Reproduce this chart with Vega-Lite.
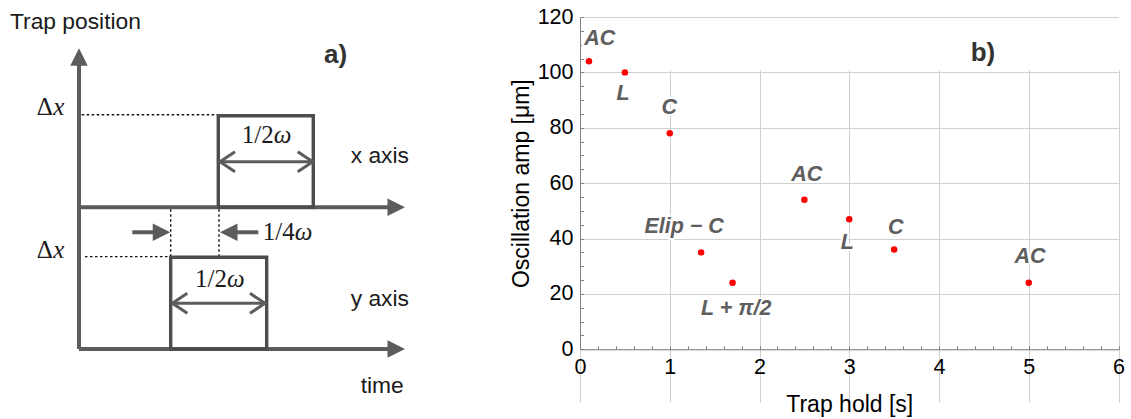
{
  "$schema": "https://vega.github.io/schema/vega-lite/v6.json",
  "width": 1131,
  "height": 419,
  "autosize": {"type": "fit", "contains": "padding"},
  "padding": 0,
  "background": "white",
  "config": {"view": {"stroke": null}, "font": "Liberation Sans"},
  "datasets": {
    "amplitude": [
      {"hold": 0.1, "amp": 104},
      {"hold": 0.5, "amp": 100},
      {"hold": 1.0, "amp": 78},
      {"hold": 1.35, "amp": 35},
      {"hold": 1.7, "amp": 24},
      {"hold": 2.5, "amp": 54},
      {"hold": 3.0, "amp": 47},
      {"hold": 3.5, "amp": 36},
      {"hold": 5.0, "amp": 24}
    ],
    "regime_labels": [
      {"text": "AC", "hold": 0.22, "amp": 112.1},
      {"text": "L", "hold": 0.48, "amp": 92.2},
      {"text": "C", "hold": 0.995, "amp": 87.0},
      {"text": "Elip − C", "hold": 1.16, "amp": 44.1},
      {"text": "L + π/2", "hold": 1.74, "amp": 14.6},
      {"text": "AC", "hold": 2.526, "amp": 62.9},
      {"text": "L", "hold": 2.978, "amp": 38.3},
      {"text": "C", "hold": 3.518, "amp": 43.7},
      {"text": "AC", "hold": 5.014, "amp": 33.3}
    ],
    "panel_tag_b": [{"text": "b)", "hold": 4.49, "amp": 106.9}],
    "schematic_axes": [
      {"x": 0, "y": 0, "x2": 0, "y2": 3.1},
      {"x": 0, "y": 1.545, "x2": 6.55, "y2": 1.545},
      {"x": 0, "y": 0, "x2": 6.55, "y2": 0}
    ],
    "schematic_boxes": [
      {"x": 2.902, "x2": 4.881, "y": 1.545, "y2": 2.544},
      {"x": 1.91, "x2": 3.91, "y": 0, "y2": 1.0}
    ],
    "schematic_dotted": [
      {"x": 0.056, "y": 2.555, "x2": 2.902, "y2": 2.555},
      {"x": 0.125, "y": 1.007, "x2": 2.348, "y2": 1.007},
      {"x": 1.91, "y": 1.007, "x2": 1.91, "y2": 1.545},
      {"x": 2.917, "y": 1.007, "x2": 2.917, "y2": 1.545}
    ],
    "schematic_span_arrows": [
      {"x": 2.94, "y": 2.043, "x2": 4.87, "y2": 2.043},
      {"x": 1.94, "y": 0.498, "x2": 3.875, "y2": 0.498}
    ],
    "schematic_offset_arrows": [
      {"x": 1.11, "y": 1.273, "x2": 1.72, "y2": 1.273},
      {"x": 3.12, "y": 1.273, "x2": 3.735, "y2": 1.273}
    ],
    "schematic_heads": [
      {"x": 0, "y": 3.184, "dir": "up"},
      {"x": 6.609, "y": 1.545, "dir": "right"},
      {"x": 6.609, "y": 0, "dir": "right"},
      {"x": 1.719, "y": 1.273, "dir": "right"},
      {"x": 3.12, "y": 1.273, "dir": "left"}
    ],
    "schematic_chevrons": [
      {"x": 2.9375, "y": 2.043, "dir": "open-left"},
      {"x": 4.869, "y": 2.043, "dir": "open-right"},
      {"x": 1.944, "y": 0.498, "dir": "open-left"},
      {"x": 3.875, "y": 0.498, "dir": "open-right"}
    ],
    "schematic_labels_sans": [
      {"x": -1.4375, "y": 3.49, "text": "Trap position"},
      {"x": 5.66, "y": 2.025, "text": "x axis"},
      {"x": 5.66, "y": 0.469, "text": "y axis"},
      {"x": 5.869, "y": -0.483, "text": "time"}
    ],
    "schematic_labels_serif": [
      {"x": -0.881, "y": 2.552, "text": "Δ"},
      {"x": -0.881, "y": 0.989, "text": "Δ"},
      {"x": 3.39, "y": 2.243, "text": "1/2"},
      {"x": 2.417, "y": 0.679, "text": "1/2"},
      {"x": 3.827, "y": 1.189, "text": "1/4"}
    ],
    "schematic_labels_italic": [
      {"x": -0.535, "y": 2.552, "text": "x"},
      {"x": -0.535, "y": 0.989, "text": "x"},
      {"x": 4.056, "y": 2.243, "text": "ω"},
      {"x": 3.083, "y": 0.679, "text": "ω"},
      {"x": 4.494, "y": 1.189, "text": "ω"}
    ],
    "schematic_tag": [{"x": 5.104, "y": 3.122, "text": "a)"}]
  },
  "layer": [
    {
      "encoding": {
        "x": {"field": "x", "type": "quantitative", "scale": {"domain": [0, 10], "range": [79, 559], "nice": false, "zero": false}, "axis": null},
        "y": {"field": "y", "type": "quantitative", "scale": {"domain": [0, 4], "range": [349, -17.8], "nice": false, "zero": false}, "axis": null}
      },
      "layer": [
        {
          "data": {"name": "schematic_dotted"},
          "mark": {"type": "rule", "color": "#111111", "strokeWidth": 1.4, "strokeDash": [2.5, 2.5]},
          "encoding": {"x2": {"field": "x2"}, "y2": {"field": "y2"}}
        },
        {
          "data": {"name": "schematic_axes"},
          "mark": {"type": "rule", "color": "#5c5c5c", "strokeWidth": 4},
          "encoding": {"x2": {"field": "x2"}, "y2": {"field": "y2"}}
        },
        {
          "data": {"name": "schematic_boxes"},
          "mark": {"type": "rect", "filled": false, "stroke": "#4d4d4d", "strokeWidth": 3.4},
          "encoding": {"x2": {"field": "x2"}, "y2": {"field": "y2"}}
        },
        {
          "data": {"name": "schematic_span_arrows"},
          "mark": {"type": "rule", "color": "#5c5c5c", "strokeWidth": 3},
          "encoding": {"x2": {"field": "x2"}, "y2": {"field": "y2"}}
        },
        {
          "data": {"name": "schematic_offset_arrows"},
          "mark": {"type": "rule", "color": "#5c5c5c", "strokeWidth": 4},
          "encoding": {"x2": {"field": "x2"}, "y2": {"field": "y2"}}
        },
        {
          "data": {"name": "schematic_heads"},
          "mark": {"type": "point", "filled": true, "size": 306, "color": "#5c5c5c", "opacity": 1, "strokeWidth": 0},
          "encoding": {
            "shape": {"field": "dir", "type": "nominal", "legend": null,
              "scale": {"domain": ["up", "right", "left", "open-left", "open-right"],
                "range": ["M-1,1L0,-1L1,1Z", "M-1,-1L1,0L-1,1Z", "M1,-1L-1,0L1,1Z", "M1.5,-1L0,0L1.5,1", "M-1.5,-1L0,0L-1.5,1"]}}
          }
        },
        {
          "data": {"name": "schematic_chevrons"},
          "mark": {"type": "point", "filled": false, "size": 400, "color": "#5c5c5c", "opacity": 1, "strokeWidth": 3},
          "encoding": {
            "shape": {"field": "dir", "type": "nominal", "legend": null,
              "scale": {"domain": ["up", "right", "left", "open-left", "open-right"],
                "range": ["M-1,1L0,-1L1,1Z", "M-1,-1L1,0L-1,1Z", "M1,-1L-1,0L1,1Z", "M1.5,-1L0,0L1.5,1", "M-1.5,-1L0,0L-1.5,1"]}}
          }
        },
        {
          "data": {"name": "schematic_labels_sans"},
          "mark": {"type": "text", "align": "left", "baseline": "alphabetic", "font": "Liberation Sans", "fontSize": 22.8, "color": "#1a1a1a"},
          "encoding": {"text": {"field": "text"}}
        },
        {
          "data": {"name": "schematic_labels_serif"},
          "mark": {"type": "text", "align": "left", "baseline": "alphabetic", "font": "Liberation Serif", "fontSize": 25, "color": "#1a1a1a"},
          "encoding": {"text": {"field": "text"}}
        },
        {
          "data": {"name": "schematic_labels_italic"},
          "mark": {"type": "text", "align": "left", "baseline": "alphabetic", "font": "Liberation Serif", "fontStyle": "italic", "fontSize": 25, "color": "#1a1a1a"},
          "encoding": {"text": {"field": "text"}}
        },
        {
          "data": {"name": "schematic_tag"},
          "mark": {"type": "text", "align": "left", "baseline": "alphabetic", "font": "Liberation Sans", "fontWeight": "bold", "fontSize": 26, "color": "#333333"},
          "encoding": {"text": {"field": "text"}}
        }
      ]
    },
    {
      "data": {"name": "amplitude"},
      "mark": {"type": "circle", "color": "#ff0000", "size": 30, "opacity": 0},
      "encoding": {
        "x": {"field": "hold", "type": "quantitative",
          "scale": {"domain": [0, 6], "range": [580, 1118.5], "nice": false, "zero": false},
          "axis": {
            "orient": "bottom", "offset": -69.7,
            "values": [0, 0.2, 0.4, 0.6, 0.8, 1, 1.2, 1.4, 1.6, 1.8, 2, 2.2, 2.4, 2.6, 2.8, 3, 3.2, 3.4, 3.6, 3.8, 4, 4.2, 4.4, 4.6, 4.8, 5, 5.2, 5.4, 5.6, 5.8, 6],
            "labelExpr": "abs(datum.value - round(datum.value)) < 0.001 ? format(datum.value, 'd') : ''",
            "labelFont": "Liberation Sans", "labelFontSize": 21.5, "labelColor": "#000000",
            "labelPadding": 11, "labelFlush": false, "labelOverlap": false,
            "tickSize": -3.5,
            "tickColor": "#808080", "tickWidth": 1,
            "domainColor": "#808080", "domainWidth": 1,
            "grid": true, "gridColor": "#d0d0d0", "gridWidth": 1,
            "gridOpacity": {"condition": {"test": "abs(datum.value - round(datum.value)) < 0.001", "value": 1}, "value": 0},
            "title": "Trap hold [s]", "titleFont": "Liberation Sans", "titleFontSize": 23, "titleFontWeight": "normal", "titleColor": "#000000", "titlePadding": 15
          }
        },
        "y": {"field": "amp", "type": "quantitative",
          "scale": {"domain": [0, 120], "range": [349.3, 17], "nice": false, "zero": false},
          "axis": {
            "orient": "left", "offset": -580,
            "values": [0, 5, 10, 15, 20, 25, 30, 35, 40, 45, 50, 55, 60, 65, 70, 75, 80, 85, 90, 95, 100, 105, 110, 115, 120],
            "labelExpr": "datum.value % 20 === 0 ? format(datum.value, 'd') : ''",
            "labelFont": "Liberation Sans", "labelFontSize": 21.5, "labelColor": "#000000",
            "labelPadding": 10.5, "labelFlush": false, "labelOverlap": false,
            "tickSize": -3.5,
            "tickColor": "#808080", "tickWidth": 1,
            "domainColor": "#808080", "domainWidth": 1,
            "grid": true, "gridColor": "#d0d0d0", "gridWidth": 1,
            "gridOpacity": {"condition": {"test": "datum.value % 20 === 0", "value": 1}, "value": 0},
            "title": "Oscillation amp [μm]", "titleFont": "Liberation Sans", "titleFontSize": 23, "titleFontWeight": "normal", "titleColor": "#000000", "titlePadding": 4
          }
        }
      }
    },
    {
      "layer": [
        {
          "data": {"name": "amplitude"},
          "mark": {"type": "circle", "color": "#ff0000", "size": 42, "opacity": 1},
          "encoding": {
            "x": {"field": "hold", "type": "quantitative",
              "scale": {"domain": [0, 6], "range": [580, 1118.5], "nice": false, "zero": false},
              "axis": {
                "orient": "top", "offset": -17,
                "values": [0, 0.2, 0.4, 0.6, 0.8, 1, 1.2, 1.4, 1.6, 1.8, 2, 2.2, 2.4, 2.6, 2.8, 3, 3.2, 3.4, 3.6, 3.8, 4, 4.2, 4.4, 4.6, 4.8, 5, 5.2, 5.4, 5.6, 5.8, 6],
                "labels": false, "grid": false, "title": null,
                "tickSize": {"condition": {"test": "abs(datum.value - round(datum.value)) < 0.001", "value": -6}, "value": -3.5},
                "tickColor": "#808080", "tickWidth": 1, "domainColor": "#808080", "domainWidth": 1
              }
            },
            "y": {"field": "amp", "type": "quantitative",
              "scale": {"domain": [0, 120], "range": [349.3, 17], "nice": false, "zero": false},
              "axis": {
                "orient": "right", "offset": -12.5,
                "values": [0, 5, 10, 15, 20, 25, 30, 35, 40, 45, 50, 55, 60, 65, 70, 75, 80, 85, 90, 95, 100, 105, 110, 115, 120],
                "labels": false, "grid": false, "title": null,
                "tickSize": {"condition": {"test": "datum.value % 20 === 0", "value": -6}, "value": -3.5},
                "tickColor": "#808080", "tickWidth": 1, "domainColor": "#808080", "domainWidth": 1
              }
            }
          }
        },
        {
          "data": {"name": "regime_labels"},
          "mark": {"type": "text", "align": "center", "baseline": "middle", "font": "Liberation Sans", "fontSize": 21.5, "fontWeight": "bold", "fontStyle": "italic", "fill": "white", "stroke": "white", "strokeWidth": 4, "strokeJoin": "round"},
          "encoding": {
            "x": {"field": "hold", "type": "quantitative", "scale": {"domain": [0, 6], "range": [580, 1118.5], "nice": false, "zero": false}, "axis": null},
            "y": {"field": "amp", "type": "quantitative", "scale": {"domain": [0, 120], "range": [349.3, 17], "nice": false, "zero": false}, "axis": null},
            "text": {"field": "text"}
          }
        },
        {
          "data": {"name": "regime_labels"},
          "mark": {"type": "text", "align": "center", "baseline": "middle", "font": "Liberation Sans", "fontSize": 21.5, "fontWeight": "bold", "fontStyle": "italic", "color": "#5e5e5e"},
          "encoding": {
            "x": {"field": "hold", "type": "quantitative", "scale": {"domain": [0, 6], "range": [580, 1118.5], "nice": false, "zero": false}, "axis": null},
            "y": {"field": "amp", "type": "quantitative", "scale": {"domain": [0, 120], "range": [349.3, 17], "nice": false, "zero": false}, "axis": null},
            "text": {"field": "text"}
          }
        },
        {
          "data": {"name": "panel_tag_b"},
          "mark": {"type": "text", "align": "center", "baseline": "middle", "font": "Liberation Sans", "fontSize": 26, "fontWeight": "bold", "color": "#333333"},
          "encoding": {
            "x": {"field": "hold", "type": "quantitative", "scale": {"domain": [0, 6], "range": [580, 1118.5], "nice": false, "zero": false}, "axis": null},
            "y": {"field": "amp", "type": "quantitative", "scale": {"domain": [0, 120], "range": [349.3, 17], "nice": false, "zero": false}, "axis": null},
            "text": {"field": "text"}
          }
        }
      ]
    }
  ],
  "resolve": {"scale": {"x": "independent", "y": "independent"}}
}
